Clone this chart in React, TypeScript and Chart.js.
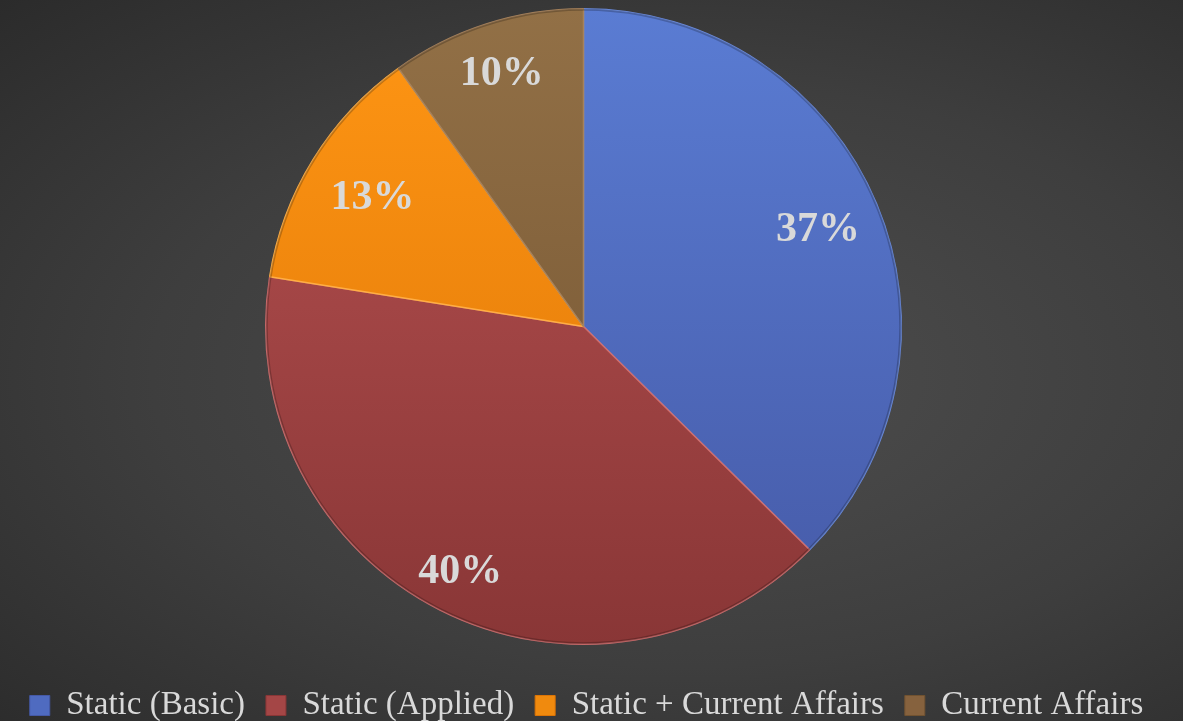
import React, { useEffect, useRef } from "react";
import { Chart, registerables } from "chart.js";

Chart.register(...registerables);

const categories = ["Static (Basic)", "Static (Applied)", "Static + Current Affairs", "Current Affairs"];
const values = [37.4, 40.1, 12.6, 9.9];
const lightColors = ["#5a7cd3", "#b85252", "#ff9614", "#927046"];
const darkColors = ["#4559a6", "#893636", "#dc7406", "#715230"];
const midColors = ["#4f6bc0", "#a44646", "#f08a0e", "#86623e"];
const borderColors = ["#6a8adb", "#cf6e6e", "#ffae45", "#a6825c"];
const labelRadiusFractions = [0.8, 0.86, 0.78, 0.84];

const labelPlugin = {
  id: "sliceLabels",
  afterDatasetsDraw(chart: any) {
    const ctx = chart.ctx;
    const meta = chart.getDatasetMeta(0);
    const data: number[] = chart.data.datasets[0].data;
    const total = data.reduce((a, b) => a + b, 0);
    ctx.save();
    // subtle darker rim
    const first = meta.data[0];
    if (first) {
      const { x, y, outerRadius } = first.getProps(["x", "y", "outerRadius"], true);
      ctx.beginPath();
      ctx.arc(x, y, outerRadius - 1, 0, Math.PI * 2);
      ctx.strokeStyle = "rgba(0,0,0,0.22)";
      ctx.lineWidth = 2;
      ctx.stroke();
    }
    ctx.font = "bold 42px 'Liberation Serif', serif";
    ctx.fillStyle = "#d9d9d9";
    ctx.textAlign = "center";
    ctx.textBaseline = "middle";
    meta.data.forEach((arc: any, i: number) => {
      const { x, y, startAngle, endAngle, outerRadius } = arc.getProps(
        ["x", "y", "startAngle", "endAngle", "outerRadius"],
        true
      );
      const mid = (startAngle + endAngle) / 2;
      const r = outerRadius * labelRadiusFractions[i];
      const pct = Math.round((data[i] / total) * 100);
      ctx.fillText(`${pct}%`, x + Math.cos(mid) * r, y + Math.sin(mid) * r + 2);
    });
    ctx.restore();
  },
};

const legendPlacement = {
  id: "legendPlacement",
  beforeInit(chart: any) {
    const lg = chart.legend;
    if (!lg) return;
    const origFit = lg.fit;
    lg.fit = function () {
      origFit.call(this);
      this.height += 12;
    };
  },
  afterLayout(chart: any) {
    const lg = chart.legend;
    if (!lg) return;
    lg.top += 23;
    lg.bottom += 23;
    lg.left += 3;
    lg.right += 3;
  },
};

export default function App() {
  const ref = useRef<HTMLCanvasElement>(null);
  useEffect(() => {
    document.body.style.margin = "0";
    const canvas = ref.current!;
    const makeFill = (i: number) => (c: any) => {
      const area = c.chart.chartArea;
      if (!area) return midColors[i];
      const g = c.chart.ctx.createLinearGradient(0, area.top, 0, area.bottom);
      g.addColorStop(0, lightColors[i]);
      g.addColorStop(1, darkColors[i]);
      return g;
    };
    const chart = new Chart(canvas, {
      type: "pie",
      data: {
        labels: categories,
        datasets: [
          {
            data: values,
            backgroundColor: (c: any) => makeFill(c.dataIndex)(c),
            borderColor: borderColors,
            borderWidth: 1.5,
          },
        ],
      },
      options: {
        animation: false,
        responsive: false,
        maintainAspectRatio: false,
        layout: { padding: { top: 8, bottom: 0, left: 0, right: 16 } },
        plugins: {
          tooltip: { enabled: false },
          legend: {
            position: "bottom",
            labels: {
              color: "#d9d9d9",
              font: { family: "'Liberation Serif', serif", size: 33 },
              boxWidth: 20,
              boxHeight: 20,
              padding: 21,
              generateLabels: () =>
                categories.map((t, i) => ({
                  text: t,
                  fillStyle: midColors[i],
                  strokeStyle: darkColors[i],
                  lineWidth: 1,
                  fontColor: "#d9d9d9",
                  index: i,
                  hidden: false,
                })),
            },
          },
        },
      },
      plugins: [legendPlacement, labelPlugin],
    });
    return () => chart.destroy();
  }, []);
  return (
    <div
      style={{
        width: 1183,
        height: 721,
        background: "radial-gradient(ellipse at 58% 52%, #4e4e4e 0%, #3e3e3e 55%, #2b2b2b 100%)",
      }}
    >
      <canvas ref={ref} width={1183} height={721} style={{ display: "block" }} />
    </div>
  );
}
